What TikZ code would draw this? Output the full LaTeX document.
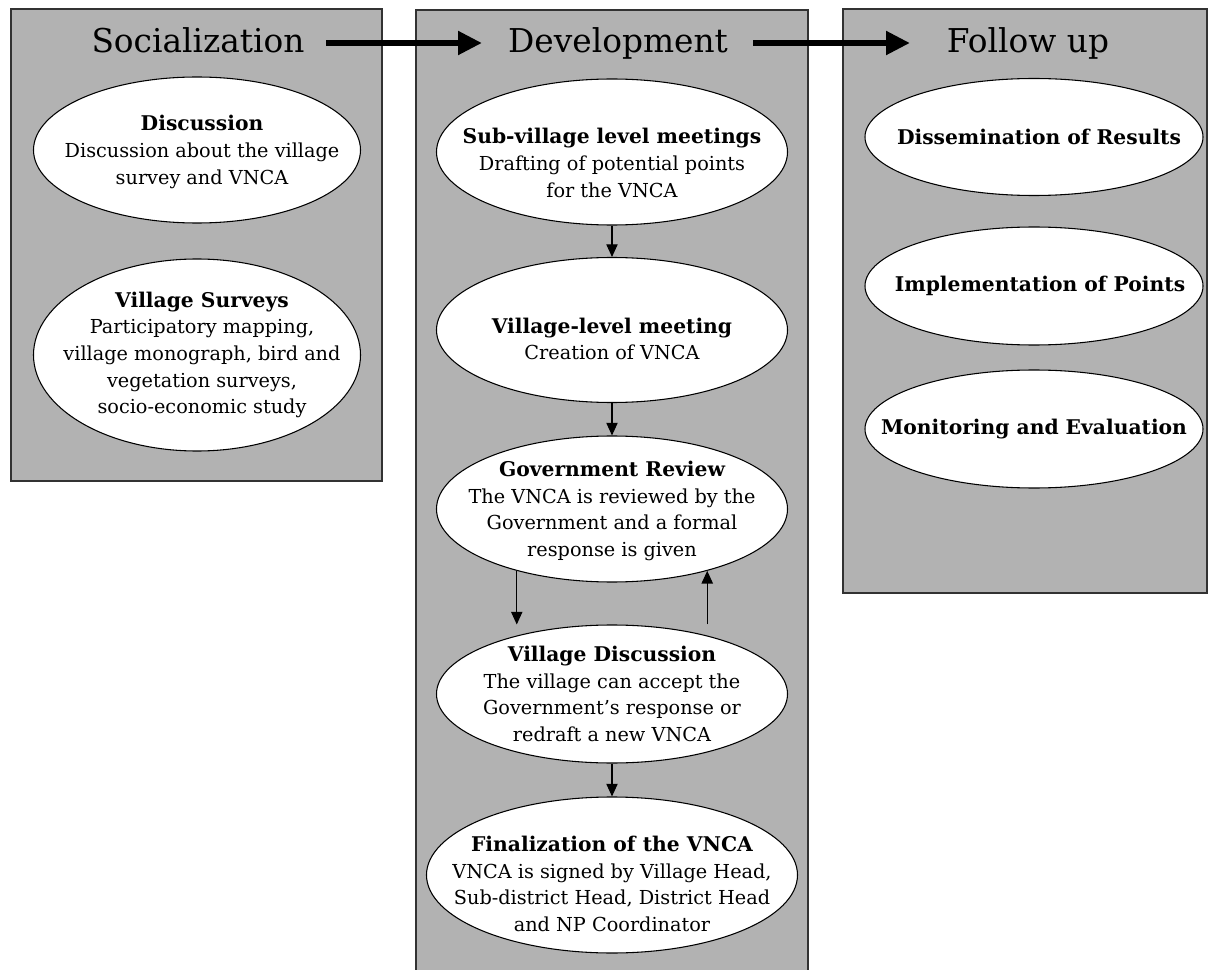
\documentclass[tikz,border=0pt]{standalone}
\usepackage{fontspec}
\setmainfont{DejaVu Serif}
\usetikzlibrary{arrows.meta,shapes.geometric}
\definecolor{panelgray}{RGB}{178,178,178}
\definecolor{edgegray}{RGB}{50,50,50}
\newcommand\hd[1]{{\fontsize{15.2}{20}\selectfont\bfseries #1}}
\begin{document}
\begin{tikzpicture}[x=0.75pt,y=-0.75pt,
  panel/.style={draw=edgegray,line width=0.9pt,fill=panelgray},
  oval/.style={ellipse,draw=black,line width=0.8pt,fill=white,inner sep=0pt},
  txt/.style={align=center,font=\fontsize{14.45}{20}\selectfont,inner sep=0pt},
  ttl/.style={font=\fontsize{24.6}{28}\selectfont,inner sep=0pt,anchor=base},
  flow/.style={line width=4.5pt,-{Triangle[length=18pt,width=17pt]}},
  link/.style={line width=0.8pt,-{Triangle[length=9.5pt,width=8.5pt]}}]
\useasboundingbox (0,0) rectangle (1208,970);

% stage panels
\draw[panel] (11,9) rectangle (382,481);
\draw[panel] (416,10) rectangle (808,975);
\draw[panel] (843,9) rectangle (1207,593);

% stage titles
\node[ttl] (soc) at (198,53) {Socialization};
\node[ttl] (dev) at (618,53) {Development};
\node[ttl] (fol) at (1028,53) {Follow up};
\coordinate (a1s) at (326,43);
\coordinate (a1e) at (482,43);
\coordinate (a2s) at (753,43);
\coordinate (a2e) at (910,43);
\draw[flow] (a1s) -- (a1e);
\draw[flow] (a2s) -- (a2e);

% socialization
\node[oval,minimum width=245.25pt,minimum height=109.5pt] (disc) at (197,150) {};
\node[txt] (disct) at (202,152) {\hd{Discussion}\\Discussion about the village\\survey and VNCA};
\node[oval,minimum width=245.25pt,minimum height=144pt] (surv) at (197,355) {};
\node[txt] (survt) at (202,355) {\hd{Village Surveys}\\Participatory mapping,\\village monograph, bird and\\vegetation surveys,\\socio-economic study};

% development
\node[oval,minimum width=263.25pt,minimum height=109.5pt] (sub) at (612,152) {};
\node[txt] (subt) at (612,163) {\hd{Sub-village level meetings}\\Drafting of potential points\\for the VNCA};
\node[oval,minimum width=263.25pt,minimum height=108.75pt] (vlm) at (612,330) {};
\node[txt] (vlmt) at (612,339) {\hd{Village-level meeting}\\Creation of VNCA};
\node[oval,minimum width=263.25pt,minimum height=109.5pt] (gov) at (612,509) {};
\node[txt] (govt) at (612,511) {\hd{Government Review}\\The VNCA is reviewed by the\\Government and a formal\\response is given};
\node[oval,minimum width=263.25pt,minimum height=103.5pt] (vd) at (612,694) {};
\node[txt] (vdt) at (612,694) {\hd{Village Discussion}\\The village can accept the\\Government’s response or\\redraft a new VNCA};
\node[oval,minimum width=278.25pt,minimum height=117pt] (fin) at (612,875) {};
\node[txt] (fint) at (612,884) {\hd{Finalization of the VNCA}\\VNCA is signed by Village Head,\\Sub-district Head, District Head\\and NP Coordinator};

\draw[link] (sub.south) -- (vlm.north);
\draw[link] (vlm.south) -- (gov.north);
\draw[link] (gov.213) -- (gov.213 |- vd.north);
\draw[link] (gov.327 |- vd.north) -- (gov.327);
\draw[link] (vd.south) -- (fin.north);

% follow up
\node[oval,minimum width=253.5pt,minimum height=87.75pt] (dis) at (1034,137) {};
\node[txt] (dist) at (1039,137) {\hd{Dissemination of Results}};
\node[oval,minimum width=253.5pt,minimum height=88.5pt] (imp) at (1034,286) {};
\node[txt] (impt) at (1040,286) {\hd{Implementation of Points}};
\node[oval,minimum width=253.5pt,minimum height=88.5pt] (mon) at (1034,429) {};
\node[txt] (mont) at (1034,429) {\hd{Monitoring and Evaluation}};
\end{tikzpicture}
\end{document}
